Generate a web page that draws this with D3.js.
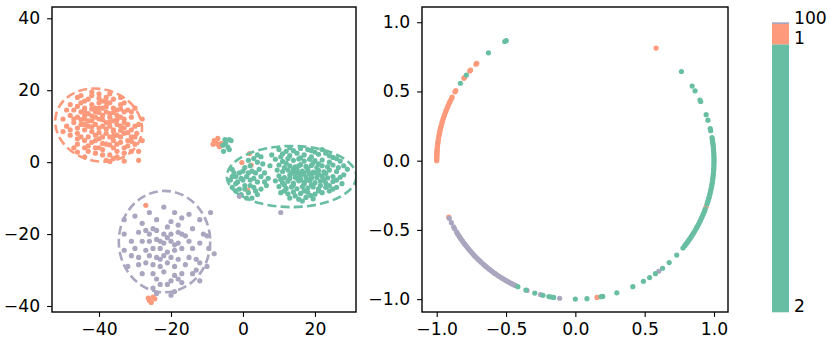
<!DOCTYPE html>
<html>
<head>
<meta charset="utf-8">
<script src="https://cdn.jsdelivr.net/npm/d3@7"></script>
<style>
  body { margin: 0; background: #fff; }
  text { font-family: "DejaVu Sans", sans-serif; }
</style>
</head>
<body>
<svg id="root"></svg>
<script>
// Two embeddings of the same points: a flat 2D map and the same points on a circle

// ---- data ----
const classNames = ["2", "1", "100"];
const classColors = ["#68bea2", "#fc9a7b", "#aaa6bf"];

// left panel, class "1" (orange)
const flatOrange = [
  [-44,17],[-42,18.5],[-40,19],[-38,18],[-36,17.5],[-46,15.5],[-44,15],[-42,16],[-40,16.5],[-38,15.5],
  [-36,15],[-34,16],[-32,14.5],[-48,13],[-46,12.5],[-45,14],[-43,13.5],[-41,14],[-39,13],[-37,13.5],
  [-35,13],[-33,12],[-31,12.5],[-49,10],[-47,11],[-45,10.5],[-44,12],[-42,11.5],[-40,12],[-38,11],
  [-36,11.5],[-34,10],[-32,10.5],[-30,10],[-48,7.5],[-46,8],[-44,9],[-42,8.5],[-40,9.5],[-38,8],
  [-36,9],[-35,7.5],[-33,8],[-31,7],[-29.5,8],[-46,5],[-44,6],[-42,5.5],[-40,6.5],[-38,5],
  [-36,6],[-34,5.5],[-32,4.5],[-30,5],[-43,3],[-41,2.5],[-39,3.5],[-37,2],[-35,3],[-33,2.5],
  [-31,3],[-38,0.5],[-36,1],[-33,0.3],[-29,0.5],[-41,15],[-39,15],[-37,12.5],[-43,10],[-41,10.5],
  [-39,10],[-37,10],[-35,10.5],[-33,9.5],[-39,7],[-37,7],[-41,7.5],[-43,7],[-45,16.5],[-47,14.5],
  [-50,12],[-50,8.5],[-47,4],[-44,1.5],[-34,18],[-30,15],[-28,12],[-28,6],[-42,19.5],[-46,18],
  [-40,4],[-36,4],[-34,12.5],[-38,14],[-42,12.8],[-44,13],[-36,8.5],[-34,7],[-32,6],[-40,13.8],
  [-46,9.5],[-48,16],[-35,14.5],[-37,16.5],[-39,17],[-43,17.5],[-31,9],[-29,3],[-33,14],[-45,7],
  [-47,12],[-45,11.8],[-43,11.5],[-41,12.5],[-39,11.8],[-37,11.2],[-35,11.8],[-33,11],[-44,14.2],
  [-42,14.8],[-40,15],[-38,16.8],[-36,13.8],[-34,14.8],[-46,6.5],[-43,4.5],[-41,4],[-39,5.2],
  [-37,4.8],[-35,5],[-33,4],[-31,5.8],[-42,9.8],[-40,8.2],[-38,9.2],[-36,7.2],[-34,8.8],[-32,8.2],
  [-30,7],[-44,10.5],[-41,6],[-39,2],[-35,1.5],[-48,9],[-49,14.5],[-45,18.5],[-40,17.8],[-37,19],
  [-33,16.5],[-31,14],[-29,10.5],[-44,4],[-46,2.8],[-37,0.2],
  // strays
  [-8,6],[-7,5],[-6.5,4.3],[-7.6,5.6],[-6,5.2],[-8.3,5],[-7,6.6],
  [1.8,2.4],[-0.3,-0.1],[2.3,-0.8],[1.3,-7.8],
  [-27,-12],[-26,-38.5],[-25,-37.5],[-24.5,-38],[-25.5,-39],[-26.3,-37.8]
];

// left panel, class "2" (green)
const flatGreen = [
  [-5,6.3],[-3.8,6.3],[-3.3,6],[-5.6,4.7],[-4.2,4.2],[-5.4,3],[-3.8,3.5],[-4.8,5.2],
  [-3,-2],[-2,-4],[-3.5,-5],[-1,-3],[0,-5],[-2,-6],[-3,-7],[-1,-7.5],[0.5,-6.5],[1,-4],
  [2,-5],[2.5,-2.5],[3.5,-3],[4,-5.5],[3,-7],[1.5,-8.5],[-0.5,-9],[0.5,-1.5],[1.5,0.5],[3,1],
  [4,2],[5,1.5],[5.5,-0.5],[4.5,-2],[6,-3],[7,-4.5],[6.5,-6.5],[5,-7.5],[4,-9],[2.5,-10],
  [-2.5,-3],[-1.5,-5.5],[-0.5,-4.5],[2,-6.5],[3,-4.5],[5,-4],[6,-5.5],[2,-1],[0,-2.5],[-2,-8],
  [1,-10],[7.5,-1],[4,0],[-3,-4],[0.5,-7.5],[3.5,-8],[1.5,-3],
  [10,3.5],[13,4],[16,3.8],[19,3.2],[22,3.5],
  [8,2],[11,2.3],[13,1.8],[15,2.5],[17,2],[19,1.5],[21,2.2],[24,1.8],[26,1],
  [9,0.8],[11,0.2],[12.5,1],[14,0.5],[15.5,0.9],[17,0.3],[18.5,0.8],[20,0.4],[22,0.6],[24,0],[27,0.3],
  [10,-0.8],[11.5,-1.5],[13,-1],[14.5,-1.3],[16,-0.7],[17.5,-1.2],[19,-0.9],[20.5,-1.5],[22,-1],[23.5,-1.3],[25,-0.8],[28,-1],
  [9.5,-2.2],[11,-2.6],[12.5,-2.2],[14,-2.7],[15,-2],[16.5,-2.5],[18,-2.3],[19.5,-2.8],[21,-2.3],[22.5,-2.7],[24,-2.2],[26,-2.6],[29,-2],
  [10,-3.8],[11.5,-4.3],[13,-3.6],[14.5,-4.1],[16,-3.7],[17.5,-4.2],[19,-3.8],[20.5,-4.3],[22,-3.9],[23.5,-4.4],[25,-4],[27,-4.2],
  [9,-5.2],[11,-5.7],[12.5,-5.3],[14,-5.8],[15.5,-5.2],[17,-5.6],[18.5,-5.1],[20,-5.7],[21.5,-5.3],[23,-5.8],[25,-5.4],[27.5,-6],
  [10,-6.8],[12,-7.3],[13.5,-6.9],[15,-7.4],[16.5,-6.8],[18,-7.2],[19.5,-6.9],[21,-7.4],[23,-7],[25,-7.5],
  [10.5,-8.5],[12.5,-8.8],[14,-8.3],[16,-8.7],[18,-8.4],[20,-8.9],[22,-8.5],[24,-8],
  [13,-10],[15.5,-10.3],[17.5,-9.8],[19.5,-10.2],
  [15,-3],[17,-3.2],[16,-4.8],[14,-1.8],[18,-1.8],[13,-4.5],[19,-4.5],[15.5,-1],[17,-6],[20,-3],
  [12,3],[14,3.2],[18,3.5],[20,2.8],[23,2.5],[10.5,1.5],[16,1.2],[25,1.3],[12,-0.3],[19.5,-0.2],
  [21,-0.5],[26.5,-1.5],[13.5,-3],[16,-2.9],[18.5,-3.2],[21,-3.4],[23,-3.1],[28,-3.5],[10.5,-4.8],
  [15,-4.5],[17.8,-4.9],[22.5,-5],[26,-5],[11.5,-6.3],[14,-6.3],[19,-6.3],[21.5,-6.5],[24,-6.5],
  [11.5,-8],[17,-8],[21,-8],[26,-7],[14.5,-9.4],[18.8,-9.3],[16.5,-10.8]
];

// left panel, class "100" (purple)
const flatPurple = [
  [-22,-12.5],[-26,-14],[-19,-14],[-15,-14.5],[-30,-15],[-24,-16],[-20,-16.5],[-17,-15.5],[-12,-16],
  [-28,-17],[-25,-18.5],[-21,-18],[-18,-17.5],[-14,-18.5],[-29,-19.5],[-26,-20],[-24,-19],[-22,-20],
  [-20,-20],[-18,-19.5],[-16,-20.5],[-11,-20],[-10,-20.5],[-33,-20],[-31,-22],[-28,-22],[-26,-22],
  [-24,-21.5],[-22,-22.5],[-20,-22],[-18,-22.5],[-15,-22],[-12,-22.5],[-30,-24],[-27,-24.5],[-25,-24],
  [-23,-24],[-21,-25],[-19,-24.5],[-17,-24],[-14,-24],[-9.5,-24],[-33,-24.5],[-31,-26],[-29,-26.5],
  [-26,-26],[-24,-26.5],[-22,-26],[-20,-26.5],[-18,-27],[-15,-26.5],[-13,-27],[-8,-25.5],[-29,-28.5],
  [-27,-28],[-25,-28.5],[-23,-29],[-21,-28],[-19,-29],[-16,-28.5],[-12,-28],[-28,-31],[-25,-31],
  [-22,-30.5],[-19,-31.5],[-17,-31],[-14,-31],[-20,-33],[-18,-32.5],[-17,-33.5],[-21,-34],[-12,-33],
  [-25,-35],[-23,-34],[-19,-36],[-24,-36.5],[-20,-37],[-33,-16],[-32,-29],[-10,-29],[-9,-14],
  [-1,-9.5],[10.5,-14],[-23,-22],[-21,-21],[-27,-19],[-19,-23],[-23,-27],[-17,-20],[-13,-30],[-24,-32.5]
];

// dashed ellipses around each cluster: centre, semi-axes (data units), tilt (deg)
const ellipseClass = [1, 0, 2];
const ellipseCx = [-40.1, 13.5, -21.8];
const ellipseCy = [10.3, -4.0, -22.1];
const ellipseRx = [12.2, 18.0, 12.7];
const ellipseRy = [10.0, 8.5, 14.1];
const ellipseTilt = [15, 0, 0];

// right panel: angle (deg) of each point on the unit circle
const arcOrange = [
  180,179.6,179.1,178.7,178.4,177.8,177.3,177,176.4,175.8,175.5,174.9,174.1,173.7,173,172.3,171.8,171,
  170.4,169.5,169,168.1,167.6,166.7,166,165.3,164.3,163.7,162.7,162.1,161.1,160.5,159.4,158.7,157.6,
  156.9,156,155.1,154.4,153.4,152.7,150.2,149.6,143.5,143,139.6,139.1,135.8,135.3,
  54.4,-19.3,-81,-155.9
];
const arcGreen = [
  146,141.8,128.8,120.6,119.9,
  40.1,32.6,30.3,26,25.3,19.4,17,13.4,12.5,
  9.6,8.8,8.1,7.2,6.6,5.7,4.9,4.2,3.3,2.6,1.7,0.9,0.2,-0.7,-1.4,-2.2,-3.1,-3.9,-4.6,-5.5,-6.3,-7,
  -7.9,-8.6,-9.4,-10.3,-11,-11.8,-12.7,-13.4,-14.2,-15.1,-15.8,-16.6,-17.4,-18.2,-20.5,-21.3,-22.1,
  -22.9,-23.8,-24.5,-25.4,-26.1,-26.9,-27.8,-28.5,-29.2,-30.1,-30.9,-31.7,-32.4,-33.3,-34.1,-34.8,
  -35.7,-36.5,-37.2,-38,-39.1,
  -43,-47.4,-51,-54.7,-57.6,-60.6,-65.5,-72.6,-78.6,-79.3,-85.2,-90,-99,-100,-101,-103.5,-107,-110.9,-114.5
];
const arcPurple = [
  -53,-96.5,-104.5,-110.4,
  -115.7,-116.3,-117.1,-117.8,-118.6,-119.3,-120.1,-120.8,-121.7,-122.4,-123.2,-123.9,-124.8,-125.5,
  -126.3,-127.1,-127.8,-128.6,-129.5,-130.2,-131,-131.7,-132.6,-133.3,-134.1,-134.9,-135.6,-136.5,
  -137.2,-138,-138.8,-139.5,-140.4,-141.1,-141.9,-142.7,-143.4,-144.3,-145,-145.8,-146.6,-147.3,
  -148.2,-148.9,-150.5,-151.4,-153.4,-155.4
];

// colour legend: share of the bar taken by each class, bottom to top
const legendLabels = ["2", "1", "100"];
const legendShares = [0.924, 0.070, 0.006];

// ---- layout ----
const width = 830, height = 343;
const fontSize = 17.2;
const tickLen = 4.9;

const svg = d3.select("#root").attr("width", width).attr("height", height);

const leftBox = { x0: 52, x1: 356, y0: 7, y1: 312 };
const rightBox = { x0: 422, x1: 728, y0: 7, y1: 312 };

/**
 * Draws ticks, labels and the black frame of one panel
 */
function drawFrame(box, xScale, yScale, xTicks, yTicks, fmt) {
  const gx = svg.append("g")
    .attr("transform", `translate(0,${box.y1})`)
    .call(d3.axisBottom(xScale).tickValues(xTicks).tickFormat(fmt).tickSize(tickLen).tickPadding(6));
  const gy = svg.append("g")
    .attr("transform", `translate(${box.x0},0)`)
    .call(d3.axisLeft(yScale).tickValues(yTicks).tickFormat(fmt).tickSize(tickLen).tickPadding(7));
  [gx, gy].forEach((g) => {
    g.select(".domain").remove();
    g.selectAll("line").attr("stroke", "#000").attr("stroke-width", 1.1);
    g.selectAll("text").attr("font-size", fontSize).attr("font-family", "DejaVu Sans").attr("fill", "#000");
  });
  svg.append("rect")
    .attr("x", box.x0).attr("y", box.y0)
    .attr("width", box.x1 - box.x0).attr("height", box.y1 - box.y0)
    .attr("fill", "none").attr("stroke", "#000").attr("stroke-width", 1.4);
}

/**
 * Clip region for a panel
 */
function addClip(id, box) {
  svg.append("clipPath").attr("id", id)
    .append("rect")
    .attr("x", box.x0).attr("y", box.y0)
    .attr("width", box.x1 - box.x0).attr("height", box.y1 - box.y0);
}

// ---- left panel ----
const xLeft = d3.scaleLinear([-53.06, 31.4], [leftBox.x0, leftBox.x1]);
const yLeft = d3.scaleLinear([-41.67, 43.14], [leftBox.y1, leftBox.y0]);
addClip("left-area", leftBox);

const leftPlot = svg.append("g").attr("clip-path", "url(#left-area)");

const flatSets = [
  { pts: flatOrange, cls: 1 },
  { pts: flatGreen, cls: 0 },
  { pts: flatPurple, cls: 2 }
];
flatSets.forEach((s) => {
  leftPlot.append("g")
    .selectAll("circle")
    .data(s.pts)
    .join("circle")
    .attr("cx", (d) => xLeft(d[0]))
    .attr("cy", (d) => yLeft(d[1]))
    .attr("r", 2.6)
    .attr("fill", classColors[s.cls]);
});

// dashed ellipses
ellipseCx.forEach((cx, i) => {
  const px = xLeft(cx), py = yLeft(ellipseCy[i]);
  leftPlot.append("ellipse")
    .attr("cx", px).attr("cy", py)
    .attr("rx", xLeft(cx + ellipseRx[i]) - px)
    .attr("ry", py - yLeft(ellipseCy[i] + ellipseRy[i]))
    .attr("transform", `rotate(${ellipseTilt[i]},${px},${py})`)
    .attr("fill", "none")
    .attr("stroke", classColors[ellipseClass[i]])
    .attr("stroke-width", 2.6)
    .attr("stroke-dasharray", "9,4.2");
});

drawFrame(leftBox, xLeft, yLeft, [-40, -20, 0, 20], [-40, -20, 0, 20, 40], d3.format("d"));

// ---- right panel ----
const xRight = d3.scaleLinear([-1.106, 1.101], [rightBox.x0, rightBox.x1]);
const yRight = d3.scaleLinear([-1.093, 1.11], [rightBox.y1, rightBox.y0]);
addClip("right-area", rightBox);

const rightPlot = svg.append("g").attr("clip-path", "url(#right-area)");
const rad = Math.PI / 180;
const arcSets = [
  { angles: arcOrange, cls: 1 },
  { angles: arcPurple, cls: 2 },
  { angles: arcGreen, cls: 0 }
];
arcSets.forEach((s) => {
  rightPlot.append("g")
    .selectAll("circle")
    .data(s.angles)
    .join("circle")
    .attr("cx", (a) => xRight(Math.cos(a * rad)))
    .attr("cy", (a) => yRight(Math.sin(a * rad)))
    .attr("r", 2.6)
    .attr("fill", classColors[s.cls]);
});

drawFrame(rightBox, xRight, yRight, [-1, -0.5, 0, 0.5, 1], [-1, -0.5, 0, 0.5, 1], d3.format(".1f"));

// ---- class legend bar ----
const barX = 772, barW = 17;
const yBar = d3.scaleLinear([0, 1], [312.3, 22.3]);
let acc = 0;
const segs = legendShares.map((v, i) => {
  const s = { lo: acc, hi: acc + v, label: legendLabels[i], color: classColors[i] };
  acc += v;
  return s;
});

svg.append("g")
  .selectAll("rect")
  .data(segs)
  .join("rect")
  .attr("x", barX)
  .attr("y", (d) => yBar(d.hi))
  .attr("width", barW)
  .attr("height", (d) => yBar(d.lo) - yBar(d.hi))
  .attr("fill", (d) => d.color);

svg.append("g")
  .selectAll("text")
  .data(segs)
  .join("text")
  .attr("x", barX + barW + 5)
  .attr("y", (d) => yBar(d.lo))
  .attr("font-size", fontSize)
  .attr("fill", "#000")
  .text((d) => d.label);
</script>
</body>
</html>
